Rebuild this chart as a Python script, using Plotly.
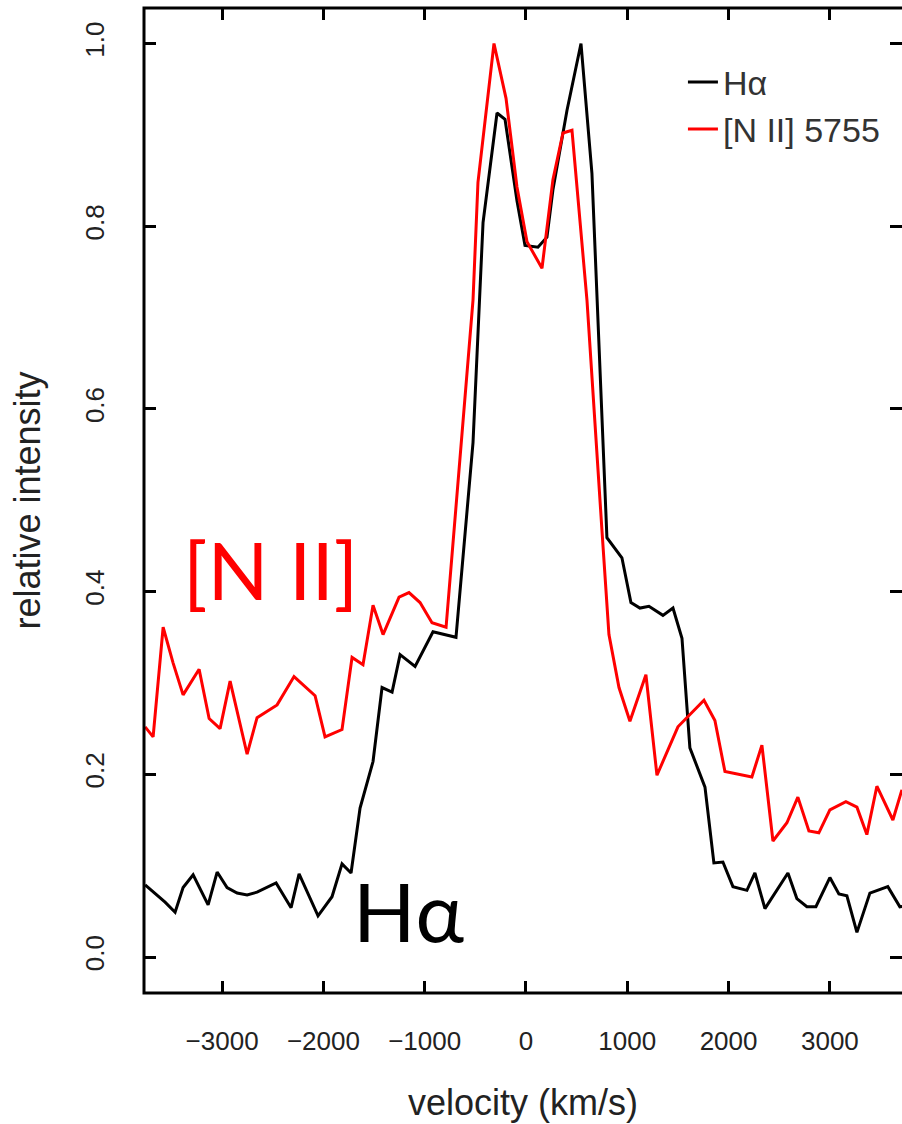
import plotly.graph_objects as go

# H-alpha profile (velocity km/s, relative intensity)
velocity_halpha = [-3760, -3563, -3464, -3385, -3286, -3138, -3049, -2951, -2852, -2753,
                   -2655, -2556, -2467, -2319, -2240, -2053, -1915, -1816, -1727, -1638,
                   -1510, -1421, -1322, -1243, -1095, -918, -799, -691, -523, -424,
                   -286, -207, -89, -10, 118, 207, 266, 405, 543, 651,
                   799, 947, 1036, 1125, 1214, 1352, 1451, 1540, 1618, 1767,
                   1855, 1944, 2043, 2181, 2260, 2359, 2586, 2674, 2773, 2862,
                   3000, 3089, 3168, 3267, 3395, 3494, 3572, 3691, 3809]
intensity_halpha = [0.079, 0.060, 0.049, 0.076, 0.090, 0.057, 0.093, 0.076, 0.070, 0.068,
                    0.071, 0.076, 0.081, 0.054, 0.091, 0.045, 0.066, 0.102, 0.092, 0.163,
                    0.214, 0.295, 0.290, 0.331, 0.318, 0.356, 0.353, 0.350, 0.563, 0.804,
                    0.924, 0.917, 0.828, 0.779, 0.777, 0.788, 0.840, 0.927, 1.000, 0.858,
                    0.459, 0.437, 0.388, 0.382, 0.384, 0.374, 0.382, 0.349, 0.229, 0.186,
                    0.103, 0.104, 0.077, 0.073, 0.092, 0.053, 0.092, 0.064, 0.055, 0.055,
                    0.087, 0.069, 0.067, 0.027, 0.070, 0.074, 0.077, 0.055, 0.057]

# [N II] 5755 profile
velocity_nii = [-3760, -3681, -3582, -3484, -3385, -3227, -3128, -3020, -2921, -2753,
                -2655, -2457, -2290, -2082, -1984, -1816, -1717, -1609, -1510, -1411,
                -1253, -1155, -1046, -928, -789, -523, -474, -316, -197, -89,
                10, 158, 266, 365, 454, 602, 750, 819, 918, 1026,
                1184, 1293, 1500, 1757, 1865, 1964, 2230, 2329, 2438, 2576,
                2684, 2793, 2891, 3000, 3158, 3267, 3365, 3464, 3622, 3711]
intensity_nii = [0.252, 0.241, 0.361, 0.322, 0.287, 0.315, 0.261, 0.250, 0.302, 0.222,
                 0.262, 0.276, 0.307, 0.286, 0.241, 0.249, 0.328, 0.320, 0.385, 0.353,
                 0.394, 0.399, 0.388, 0.366, 0.361, 0.719, 0.848, 1.000, 0.940, 0.843,
                 0.783, 0.754, 0.851, 0.902, 0.905, 0.719, 0.467, 0.353, 0.295, 0.258,
                 0.309, 0.199, 0.252, 0.281, 0.259, 0.203, 0.197, 0.232, 0.127, 0.147,
                 0.175, 0.138, 0.136, 0.161, 0.170, 0.164, 0.134, 0.187, 0.150, 0.183]

x_ticks = [-3000, -2000, -1000, 0, 1000, 2000, 3000]
y_ticks = [0.0, 0.2, 0.4, 0.6, 0.8, 1.0]
y_tick_labels = ["0.0", "0.2", "0.4", "0.6", "0.8", "1.0"]

axis_font = dict(family="Liberation Sans, Arial, sans-serif", size=26, color="#222222")
title_font = dict(family="Liberation Sans, Arial, sans-serif", size=36, color="#222222")

fig = go.Figure()
fig.add_trace(go.Scatter(x=velocity_halpha, y=intensity_halpha, mode="lines", name="Hα",
                         line=dict(color="black", width=3)))
fig.add_trace(go.Scatter(x=velocity_nii, y=intensity_nii, mode="lines", name="[N II] 5755",
                         line=dict(color="#ff0000", width=3)))

fig.update_layout(
    width=902, height=1124,
    margin=dict(l=144, r=0, t=8, b=131),
    paper_bgcolor="white", plot_bgcolor="white",
    showlegend=True,
    legend=dict(x=0.711, y=0.954, xanchor="left", yanchor="top",
                font=dict(family="Liberation Sans, Arial, sans-serif", size=34, color="#333333"),
                bgcolor="rgba(0,0,0,0)", borderwidth=0, tracegroupgap=0),
    xaxis=dict(range=[-3771, 3712], tickvals=x_ticks, ticks="inside", ticklen=12, tickwidth=2.5,
               tickcolor="black", mirror="ticks", showline=False, showgrid=False, zeroline=False,
               tickfont=axis_font, ticklabelstandoff=30,
               title=dict(text="velocity (km/s)", font=title_font, standoff=34)),
    yaxis=dict(range=[-0.0394, 1.0389], tickvals=y_ticks, ticktext=y_tick_labels, ticks="inside",
               ticklen=12, tickwidth=2.5, tickcolor="black", mirror="ticks", showline=False,
               showgrid=False, zeroline=False, tickangle=-90, tickfont=axis_font,
               ticklabelstandoff=34,
               title=dict(text="relative intensity", font=title_font, standoff=28)),
    shapes=[dict(type="rect", xref="paper", yref="paper", x0=0, x1=1.01, y0=0, y1=1,
                 line=dict(color="black", width=3), layer="above")],
    annotations=[
        dict(x=-2526, y=0.425, xref="x", yref="y", text="[N II]", showarrow=False,
             xanchor="center", yanchor="middle",
             font=dict(family="Lato, Noto Sans, sans-serif", size=80, color="#ff0000")),
        dict(x=-1155, y=0.0515, xref="x", yref="y", text="Hα", showarrow=False,
             xanchor="center", yanchor="middle",
             font=dict(family="Lato, Noto Sans, sans-serif", size=82, color="black")),
    ],
)

fig.write_html("out.html")
